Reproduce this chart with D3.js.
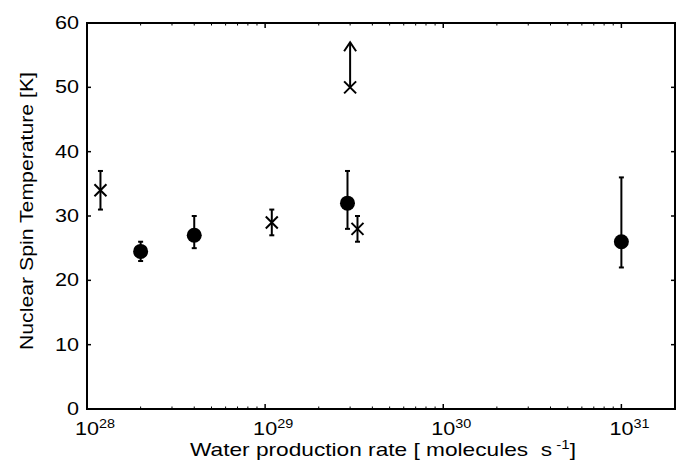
<!DOCTYPE html>
<html>
<head>
<meta charset="utf-8">
<script src="https://cdn.jsdelivr.net/npm/d3@7"></script>
<style>
  body { margin: 0; background: #fff; }
  text { font-family: "Liberation Sans", Arial, sans-serif; fill: #000; }
</style>
</head>
<body>
<div id="canvas"></div>
<script>
"use strict"

/* Data */
// filled circles: water production rate, temperature, error low/high
let circleRate = [2e28, 4e28, 2.9e29, 1e31];
let circleTemp = [24.5, 27, 32, 26];
let circleLow  = [23, 25, 28, 22];
let circleHigh = [26, 30, 37, 36];

// crosses
let crossRate = [1.19e28, 1.09e29, 3.3e29];
let crossTemp = [34, 29, 28];
let crossLow  = [31, 27, 26];
let crossHigh = [37, 31, 30];

// lower limit (cross with arrow up)
let limitRate = [3e29];
let limitTemp = [50];
let limitTop  = [57];

let yTicks = [0, 10, 20, 30, 40, 50, 60];
let xDecades = [28, 29, 30, 31];

/* Drawing config */
let svgWidth = 687;
let svgHeight = 464;
let margin = { top: 23, right: 12, bottom: 55, left: 87 };
let stretch = 1.2; // the reference type is wider than Liberation Sans

let svg = d3.select("#canvas")
    .append("svg")
    .attr("width", svgWidth)
    .attr("height", svgHeight);

let xScale = d3.scaleLog()
    .domain([1e28, 2e31])
    .range([margin.left, svgWidth - margin.right]);

let yScale = d3.scaleLinear()
    .domain([0, 60])
    .range([svgHeight - margin.bottom, margin.top]);

let x0 = xScale.range()[0], x1 = xScale.range()[1];
let y0 = yScale.range()[0], y1 = yScale.range()[1];

// minor + major ticks for the log axis
let xMinor = [];
for (let e = 28; e <= 31; e++) {
    for (let m = 2; m <= 9; m++) {
        let v = m * Math.pow(10, e);
        if (v <= 2e31) xMinor.push(v);
    }
}
let xMajor = xDecades.map(function(e) { return Math.pow(10, e); });

let ticks = svg.append("g")
    .attr("stroke", "black")
    .attr("stroke-width", 1.5);

// y ticks on both sides, pointing in
yTicks.forEach(function(t) {
    ticks.append("line").attr("x1", x0).attr("x2", x0 + 4)
        .attr("y1", yScale(t)).attr("y2", yScale(t));
    ticks.append("line").attr("x1", x1).attr("x2", x1 - 4)
        .attr("y1", yScale(t)).attr("y2", yScale(t));
});
xMajor.forEach(function(v) {
    ticks.append("line").attr("x1", xScale(v)).attr("x2", xScale(v))
        .attr("y1", y0).attr("y2", y0 - 5);
    ticks.append("line").attr("x1", xScale(v)).attr("x2", xScale(v))
        .attr("y1", y1).attr("y2", y1 + 5);
});
xMinor.forEach(function(v) {
    ticks.append("line").attr("x1", xScale(v)).attr("x2", xScale(v))
        .attr("y1", y0).attr("y2", y0 - 2.5)
        .attr("stroke-width", 1);
    ticks.append("line").attr("x1", xScale(v)).attr("x2", xScale(v))
        .attr("y1", y1).attr("y2", y1 + 2.5)
        .attr("stroke-width", 1);
});

/* Frame */
svg.append("rect")
    .attr("x", x0).attr("y", y1)
    .attr("width", x1 - x0).attr("height", y0 - y1)
    .attr("fill", "none")
    .attr("stroke", "black")
    .attr("stroke-width", 2);

/* Tick labels */
svg.selectAll(".ylab")
    .data(yTicks)
    .join("text")
    .attr("transform", function(d) {
        return "translate(" + (x0 - 8) + "," + (yScale(d) + 6) + ") scale(" + stretch + ",1)";
    })
    .attr("text-anchor", "end")
    .style("font-size", "18px")
    .text(function(d) { return d; });

// "10" centred on the tick, exponent hanging to the right
svg.selectAll(".xlab")
    .data(xDecades)
    .join("text")
    .attr("transform", function(d) {
        return "translate(" + xScale(Math.pow(10, d)) + "," + (y0 + 26) + ") scale(" + stretch + ",1)";
    })
    .attr("text-anchor", "middle")
    .style("font-size", "18px")
    .text("10");
svg.selectAll(".xexp")
    .data(xDecades)
    .join("text")
    .attr("transform", function(d) {
        return "translate(" + (xScale(Math.pow(10, d)) + 12) + "," + (y0 + 19) + ") scale(" + stretch + ",1)";
    })
    .attr("text-anchor", "start")
    .style("font-size", "12px")
    .text(function(d) { return d; });

/* Axis titles */
let xt = svg.append("text")
    .attr("transform", "translate(" + ((x0 + x1) / 2 + 2) + ",456) scale(1.26,1)")
    .attr("text-anchor", "middle")
    .style("font-size", "18px")
    .style("white-space", "pre");
xt.append("tspan").text("Water production rate [ molecules  s");
xt.append("tspan").attr("dy", -7).style("font-size", "12px").text(" -1");
xt.append("tspan").attr("dy", 7).text("]");

svg.append("text")
    .attr("transform", "translate(33,211) rotate(-90) scale(1.18,1)")
    .attr("text-anchor", "middle")
    .style("font-size", "18px")
    .text("Nuclear Spin Temperature [K]");

/* Error bars */
function errorBars(rates, lows, highs) {
    let g = svg.append("g").attr("stroke", "black").attr("stroke-width", 2);
    rates.forEach(function(r, i) {
        let x = xScale(r);
        g.append("line").attr("x1", x).attr("x2", x)
            .attr("y1", yScale(lows[i])).attr("y2", yScale(highs[i]));
        [lows[i], highs[i]].forEach(function(v) {
            g.append("line").attr("x1", x - 2.5).attr("x2", x + 2.5)
                .attr("y1", yScale(v)).attr("y2", yScale(v));
        });
    });
}
errorBars(circleRate, circleLow, circleHigh);
errorBars(crossRate, crossLow, crossHigh);

/* Circles */
svg.selectAll(".dot")
    .data(circleRate)
    .join("circle")
    .attr("cx", function(d) { return xScale(d); })
    .attr("cy", function(d, i) { return yScale(circleTemp[i]); })
    .attr("r", 7.5)
    .attr("fill", "black");

/* Crosses */
function cross(x, y) {
    let s = 6;
    svg.append("path")
        .attr("d", "M" + (x - s) + "," + (y - s) + "L" + (x + s) + "," + (y + s) +
                   "M" + (x - s) + "," + (y + s) + "L" + (x + s) + "," + (y - s))
        .attr("stroke", "black")
        .attr("stroke-width", 2)
        .attr("fill", "none");
}
crossRate.forEach(function(r, i) { cross(xScale(r), yScale(crossTemp[i])); });

/* Lower limit with arrow */
limitRate.forEach(function(r, i) {
    let x = xScale(r);
    let yb = yScale(limitTemp[i]);
    let yt = yScale(limitTop[i]);
    cross(x, yb);
    svg.append("line")
        .attr("x1", x).attr("x2", x)
        .attr("y1", yb).attr("y2", yt)
        .attr("stroke", "black").attr("stroke-width", 2);
    svg.append("path")
        .attr("d", "M" + (x - 6) + "," + (yt + 9) + "L" + x + "," + yt + "L" + (x + 6) + "," + (yt + 9))
        .attr("stroke", "black").attr("stroke-width", 2).attr("fill", "none");
});
</script>
</body>
</html>
